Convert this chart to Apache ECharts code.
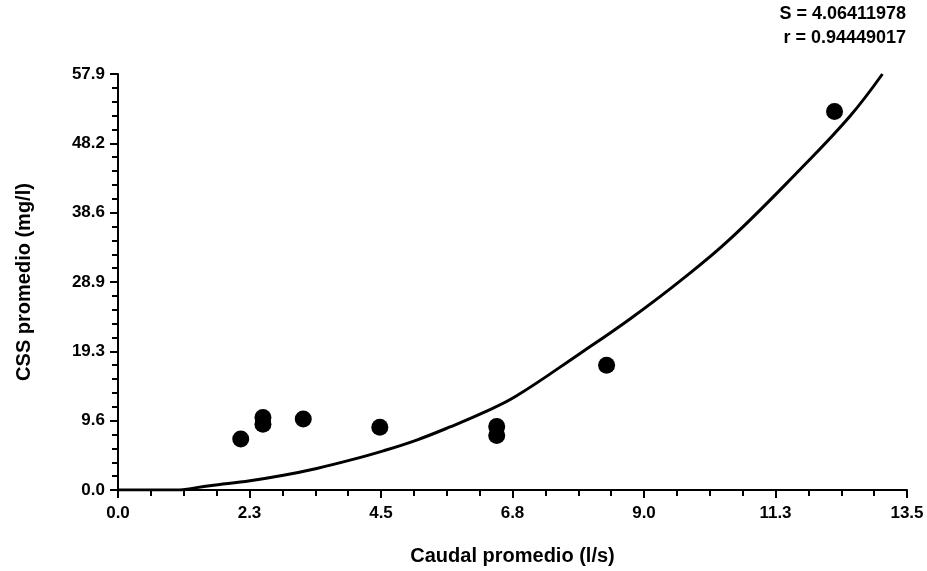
<!DOCTYPE html>
<html>
<head>
<meta charset="utf-8">
<script src="https://cdn.jsdelivr.net/npm/echarts@6/dist/echarts.min.js"></script>
<style>
  html, body { margin: 0; padding: 0; background: #fff; }
  #chart { width: 927px; height: 571px; }
</style>
</head>
<body>
<div id="chart"></div>
<script>
// measured points
const caudal = [2.10, 2.48, 2.48, 3.17, 4.48, 6.48, 6.48, 8.36, 12.26]
const css = [7.10, 10.07, 9.14, 9.87, 8.72, 8.82, 7.57, 17.35, 52.66]

// fitted curve
const curveX = [0, 1.0, 1.11, 1.57, 2.26, 2.83, 3.40, 3.97, 4.54, 5.11, 5.68, 6.25, 6.80, 7.90, 8.76, 9.62, 10.47, 11.67, 12.52, 13.08]
const curveY = [0, 0, 0.05, 0.6, 1.29, 2.05, 3.0, 4.15, 5.45, 6.95, 8.77, 10.76, 13.0, 18.97, 23.8, 29.1, 34.9, 44.6, 51.97, 57.88]

const xTickLabels = ['0.0', '2.3', '4.5', '6.8', '9.0', '11.3', '13.5']
const yTickLabels = ['0.0', '9.6', '19.3', '28.9', '38.6', '48.2', '57.9']
const xMax = 13.5
const yMax = 57.88
const statS = 'S = 4.06411978'
const statR = 'r = 0.94449017'

const xStep = xMax / (xTickLabels.length - 1)
const yStep = yMax / (yTickLabels.length - 1)

const fontFamily = 'Liberation Sans, Arial, sans-serif'
const tickFont = { color: '#000', fontFamily, fontWeight: 'bold', fontSize: 17 }
const nameFont = { color: '#000', fontFamily, fontWeight: 'bold', fontSize: 20 }

const chart = echarts.init(document.getElementById('chart'))

chart.setOption({
  animation: false,
  backgroundColor: '#fff',
  grid: { left: 118, right: 20, top: 74, bottom: 79 },
  xAxis: {
    type: 'value',
    min: 0,
    max: xMax,
    interval: xStep,
    name: 'Caudal promedio (l/s)',
    nameLocation: 'middle',
    nameGap: 56,
    nameTextStyle: nameFont,
    axisLine: { lineStyle: { color: '#000', width: 2 } },
    axisTick: { length: 8, lineStyle: { color: '#000', width: 2 } },
    minorTick: { show: true, splitNumber: 4, length: 6, lineStyle: { color: '#000', width: 2 } },
    splitLine: { show: false },
    axisLabel: Object.assign({}, tickFont, {
      margin: 15,
      formatter: v => xTickLabels[Math.round(v / xStep)]
    })
  },
  yAxis: {
    type: 'value',
    min: 0,
    max: yMax,
    interval: yStep,
    name: 'CSS promedio (mg/l)',
    nameLocation: 'middle',
    nameRotate: 90,
    nameGap: 84,
    nameTextStyle: nameFont,
    axisLine: { show: true, lineStyle: { color: '#000', width: 2 } },
    axisTick: { show: true, length: 8, lineStyle: { color: '#000', width: 2 } },
    minorTick: { show: true, splitNumber: 5, length: 6, lineStyle: { color: '#000', width: 2 } },
    splitLine: { show: false },
    axisLabel: Object.assign({}, tickFont, {
      margin: 13,
      formatter: v => yTickLabels[Math.round(v / yStep)]
    })
  },
  graphic: [
    {
      type: 'text',
      right: 21,
      top: 5,
      style: { text: statS, fill: '#000', font: 'bold 18px ' + fontFamily, textAlign: 'right' }
    },
    {
      type: 'text',
      right: 21,
      top: 29,
      style: { text: statR, fill: '#000', font: 'bold 18px ' + fontFamily, textAlign: 'right' }
    }
  ],
  series: [
    {
      type: 'line',
      data: curveX.map((x, i) => [x, curveY[i]]),
      smooth: 0.4,
      showSymbol: false,
      lineStyle: { color: '#000', width: 3, join: 'round' },
      z: 2
    },
    {
      type: 'scatter',
      data: caudal.map((x, i) => [x, css[i]]),
      symbolSize: 17,
      itemStyle: { color: '#000', opacity: 1 },
      z: 3
    }
  ]
})
</script>
</body>
</html>
